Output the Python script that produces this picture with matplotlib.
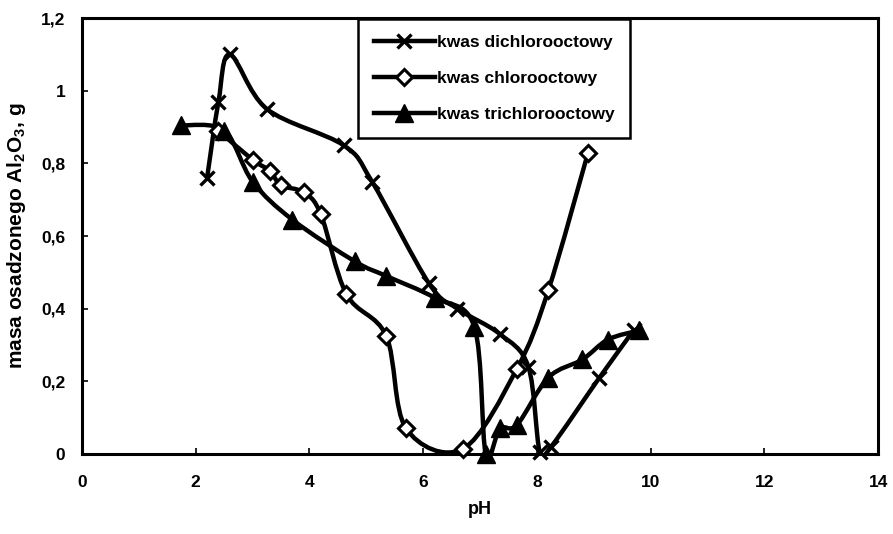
import matplotlib
matplotlib.use('Agg')
import matplotlib.pyplot as plt
from matplotlib.path import Path
from matplotlib.patches import PathPatch
from matplotlib.lines import Line2D
import numpy as np

plt.rcParams['font.family'] = ['Liberation Sans', 'DejaVu Sans']
plt.rcParams['font.weight'] = 'bold'
plt.rcParams['mathtext.fontset'] = 'custom'
plt.rcParams['mathtext.bf'] = 'Liberation Sans:bold'
plt.rcParams['mathtext.rm'] = 'Liberation Sans:bold'
plt.rcParams['mathtext.default'] = 'bf'

# kwas dichlorooctowy (x)
ph_dich = [2.2, 2.4, 2.6, 3.25, 4.6, 5.1, 6.1, 6.6, 7.35, 7.85, 8.05, 8.25, 9.1, 9.7]
m_dich = [0.76, 0.97, 1.10, 0.95, 0.85, 0.75, 0.47, 0.40, 0.33, 0.24, 0.005, 0.02, 0.21, 0.34]

# kwas chlorooctowy (diamonds)
ph_chl = [2.4, 3.0, 3.3, 3.5, 3.9, 4.2, 4.65, 5.35, 5.7, 6.7, 7.65, 8.2, 8.9]
m_chl = [0.89, 0.81, 0.78, 0.74, 0.72, 0.66, 0.44, 0.325, 0.07, 0.014, 0.235, 0.45, 0.83]

# kwas trichlorooctowy (triangles)
ph_tri = [1.75, 2.5, 3.0, 3.7, 4.8, 5.35, 6.2, 6.9, 7.1, 7.35, 7.65, 8.2, 8.8, 9.25, 9.8]
m_tri = [0.905, 0.89, 0.75, 0.645, 0.53, 0.49, 0.43, 0.35, 0.0, 0.07, 0.08, 0.21, 0.26, 0.315, 0.34]

labels = ['kwas dichlorooctowy', 'kwas chlorooctowy', 'kwas trichlorooctowy']


def smooth_path(xs, ys):
    # Excel-like smoothed line: cubic Bezier segments through the points
    p = np.column_stack([xs, ys])
    n = len(p)
    verts = [p[0]]
    codes = [Path.MOVETO]
    for i in range(n - 1):
        p0 = p[i - 1] if i > 0 else p[i]
        p3 = p[i + 2] if i + 2 < n else p[i + 1]
        c1 = p[i] + (p[i + 1] - p0) / 6.0
        c2 = p[i + 1] - (p3 - p[i]) / 6.0
        verts += [c1, c2, p[i + 1]]
        codes += [Path.CURVE4] * 3
    return Path(verts, codes)


fig = plt.figure(figsize=(8.93, 5.34), dpi=100)
ax = fig.add_axes([0.0918, 0.150, 0.8915, 0.816])

lw = 3.2
series = [
    (ph_dich, m_dich, dict(marker='x', ms=10, mew=2.4, mfc='black', mec='black')),
    (ph_chl, m_chl, dict(marker='D', ms=8, mew=2.2, mfc='white', mec='black')),
    (ph_tri, m_tri, dict(marker='^', ms=13, mew=1.0, mfc='black', mec='black')),
]
handles = []
for (xs, ys, mk), lab in zip(series, labels):
    ax.add_patch(PathPatch(smooth_path(xs, ys), fill=False, edgecolor='black',
                           lw=lw, capstyle='round', joinstyle='round', zorder=2))
    ax.plot(xs, ys, linestyle='none', zorder=3, clip_on=False, **mk)
    handles.append(Line2D([], [], color='black', lw=lw, **mk))

ax.set_xlim(0, 14)
ax.set_ylim(0, 1.2)
ax.set_xticks(range(0, 15, 2))
yt = [0, 0.2, 0.4, 0.6, 0.8, 1.0, 1.2]
ax.set_yticks(yt)
ax.set_yticklabels(['0', '0,2', '0,4', '0,6', '0,8', '1', '1,2'])
ax.tick_params(direction='in', length=4, width=1.2, labelsize=12.5)
ax.tick_params(axis='y', pad=12)
ax.tick_params(axis='x', pad=15)
for s in ax.spines.values():
    s.set_linewidth(2.2)

ax.set_xlabel('pH', fontsize=13, fontweight='bold', labelpad=8)
ax.set_ylabel(r'masa osadzonego Al$_2$O$_3$, g', fontsize=15, fontweight='bold', labelpad=9)

leg = ax.legend(handles, labels, loc='upper left', bbox_to_anchor=(0.347, 0.997),
                fancybox=False, edgecolor='black', framealpha=1, fontsize=12.5,
                handlelength=3.5, handletextpad=0.15, labelspacing=1.2, borderpad=0.9,
                borderaxespad=0)
leg.get_frame().set_linewidth(1.8)

fig.savefig('out.png', dpi=100)
